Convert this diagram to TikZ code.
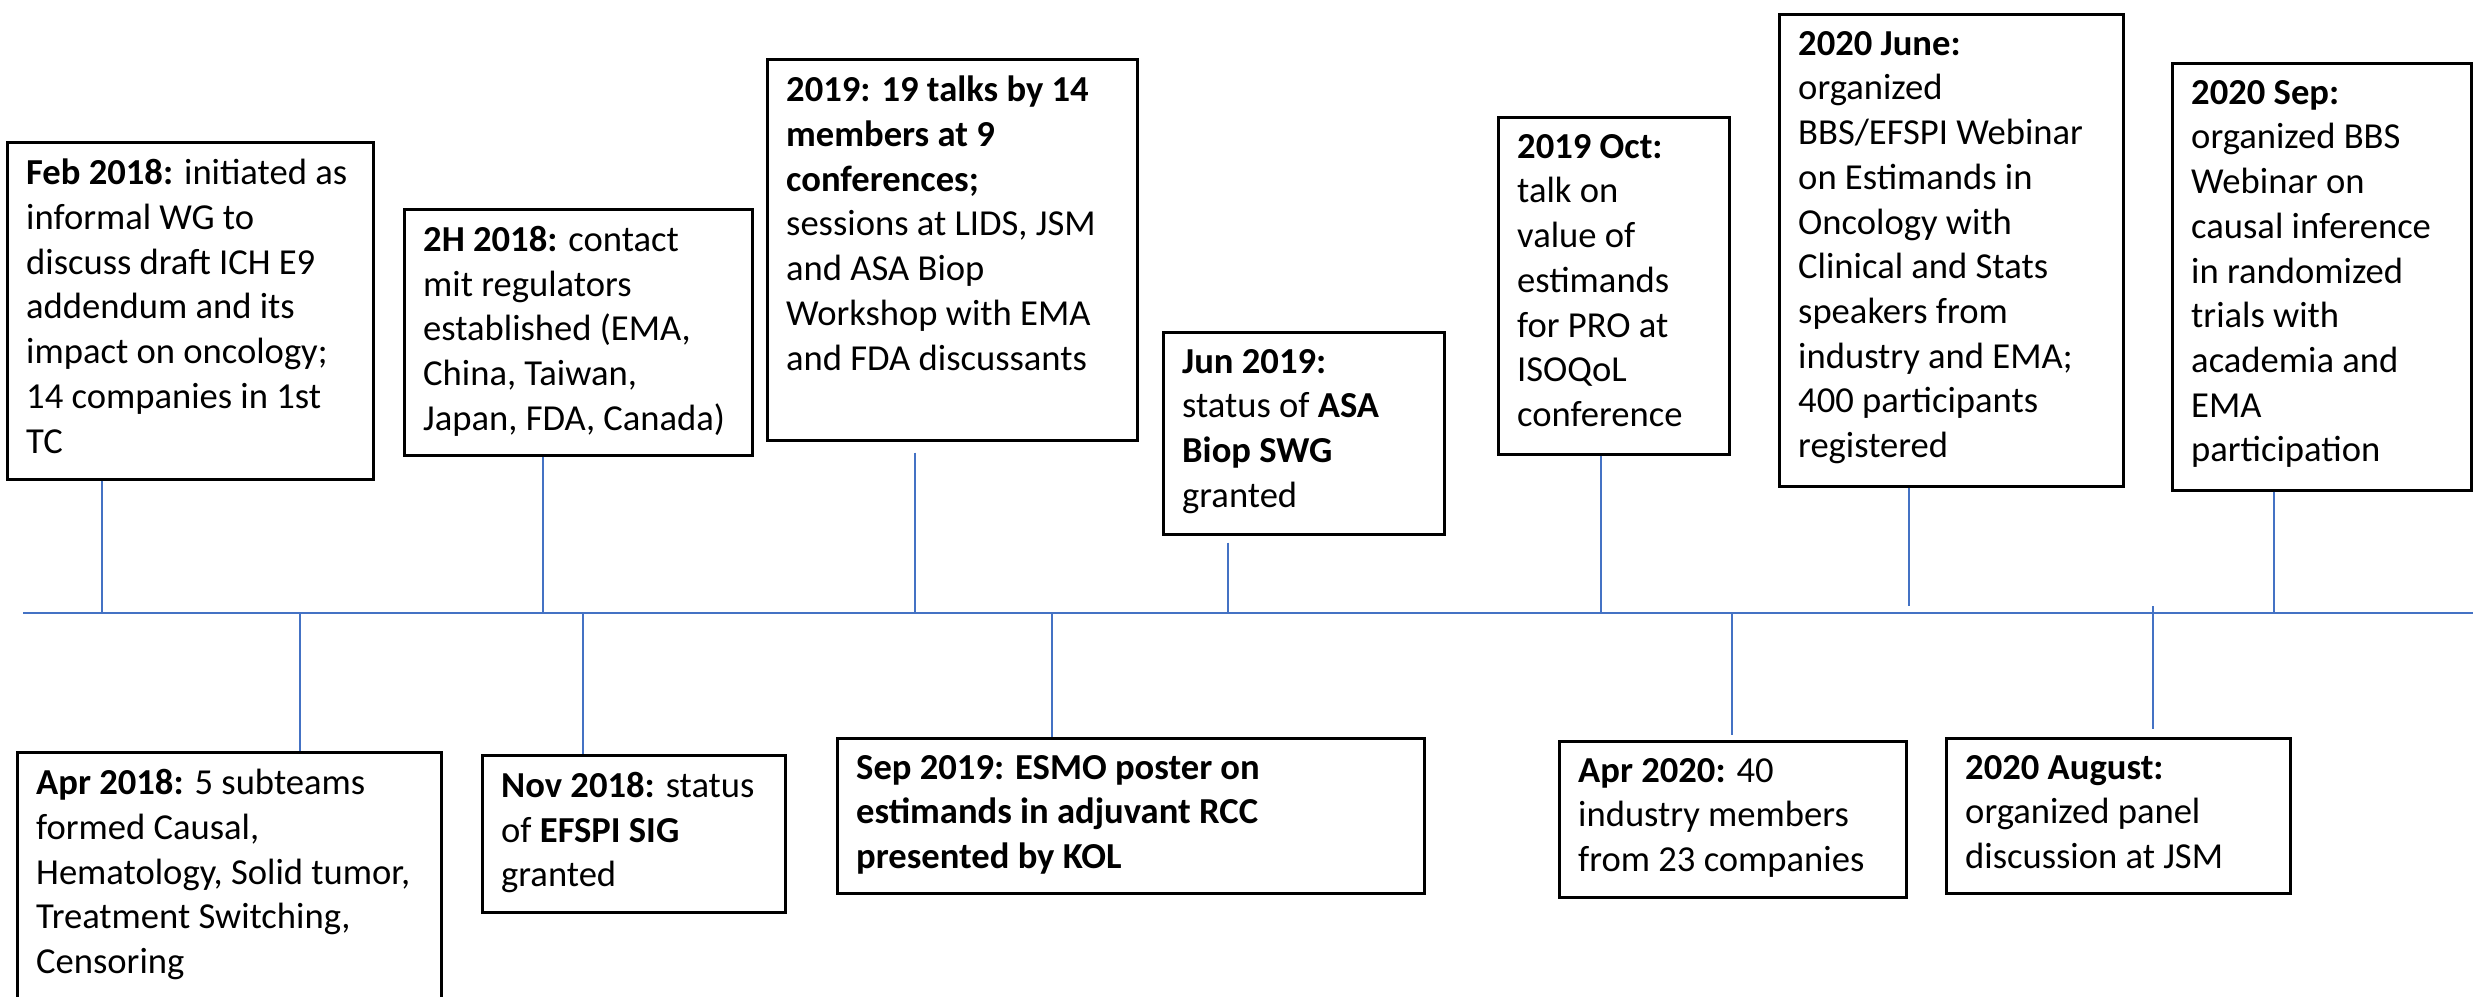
\documentclass[tikz,border=0pt]{standalone}
\usepackage{fontspec}
\setmainfont{Carlito}
\definecolor{tlblue}{HTML}{4472C4}
\begin{document}
\begin{tikzpicture}[x=1pt,y=-1pt,
  box/.style={draw=black, line width=2.5pt, rectangle, inner sep=0pt, anchor=north west},
  txt/.style={anchor=north west, align=left, inner sep=0pt, font=\fontsize{36.6}{44.7}\selectfont,
    execute at begin node={\rule{0pt}{32pt}}},
  conn/.style={draw=tlblue, line width=1.4pt},
  tline/.style={draw=tlblue, line width=2.8pt}]
\useasboundingbox[fill=white] (0,0) rectangle (2473,996);

% timeline
\coordinate (tlstart) at (23,613);
\coordinate (tlend) at (2473,613);
\draw[tline] (tlstart) -- (tlend);

% boxes above
\node[box, minimum width=366pt, minimum height=337pt] (feb) at (6,141) {};
\node[txt] (febt) at ([shift={(20,18)}]feb.north west) {\textbf{Feb 2018:} initiated as\\informal WG to\\discuss draft ICH E9\\addendum and its\\impact on oncology;\\14 companies in 1st\\TC};

\node[box, minimum width=348pt, minimum height=246pt] (hb) at (403,208) {};
\node[txt] (hbt) at ([shift={(20,18)}]hb.north west) {\textbf{2H 2018:} contact\\mit regulators\\established (EMA,\\China, Taiwan,\\Japan, FDA, Canada)};

\node[box, minimum width=370pt, minimum height=381pt] (yn) at (766,58) {};
\node[txt] (ynt) at ([shift={(20,18)}]yn.north west) {\textbf{2019: 19 talks by 14}\\\textbf{members at 9}\\\textbf{conferences;}\\sessions at LIDS, JSM\\and ASA Biop\\Workshop with EMA\\and FDA discussants};

\node[box, minimum width=281pt, minimum height=202pt] (jn) at (1162,331) {};
\node[txt] (jnt) at ([shift={(20,18)}]jn.north west) {\textbf{Jun 2019:}\\status of \textbf{ASA}\\\textbf{Biop SWG}\\granted};

\node[box, minimum width=231pt, minimum height=337pt] (oc) at (1497,116) {};
\node[txt] (oct) at ([shift={(20,18)}]oc.north west) {\textbf{2019 Oct:}\\talk on\\value of\\estimands\\for PRO at\\ISOQoL\\conference};

\node[box, minimum width=344pt, minimum height=472pt] (ju) at (1778,13) {};
\node[txt] (jut) at ([shift={(20,18)}]ju.north west) {\textbf{2020 June:}\\organized\\BBS/EFSPI Webinar\\on Estimands in\\Oncology with\\Clinical and Stats\\speakers from\\industry and EMA;\\400 participants\\registered};

\node[box, minimum width=299pt, minimum height=427pt] (sp) at (2171,62) {};
\node[txt] (spt) at ([shift={(20,18)}]sp.north west) {\textbf{2020 Sep:}\\organized BBS\\Webinar on\\causal inference\\in randomized\\trials with\\academia and\\EMA\\participation};

% boxes below
\node[box, minimum width=424pt, minimum height=260pt] (ap) at (16,751) {};
\node[txt] (apt) at ([shift={(20,18)}]ap.north west) {\textbf{Apr 2018:} 5 subteams\\formed Causal,\\Hematology, Solid tumor,\\Treatment Switching,\\Censoring};

\node[box, minimum width=303pt, minimum height=157pt] (nv) at (481,754) {};
\node[txt] (nvt) at ([shift={(20,18)}]nv.north west) {\textbf{Nov 2018:} status\\of \textbf{EFSPI SIG}\\granted};

\node[box, minimum width=587pt, minimum height=155pt] (se) at (836,737) {};
\node[txt] (set) at ([shift={(20,18)}]se.north west) {\textbf{Sep 2019: ESMO poster on}\\\textbf{estimands in adjuvant RCC}\\\textbf{presented by KOL}};

\node[box, minimum width=347pt, minimum height=156pt] (aw) at (1558,740) {};
\node[txt] (awt) at ([shift={(20,18)}]aw.north west) {\textbf{Apr 2020:} 40\\industry members\\from 23 companies};

\node[box, minimum width=344pt, minimum height=155pt] (au) at (1945,737) {};
\node[txt] (aut) at ([shift={(20,18)}]au.north west) {\textbf{2020 August:}\\organized panel\\discussion at JSM};

% timeline points
\coordinate (cfeb) at (102,613);
\coordinate (chb) at (543,613);
\coordinate (cyn) at (915,613);
\coordinate (cjn) at (1228,613);
\coordinate (coc) at (1601,613);
\coordinate (cju) at (1909,613);
\coordinate (csp) at (2274,613);
\coordinate (cap) at (300,613);
\coordinate (cnv) at (583,613);
\coordinate (cse) at (1052,613);
\coordinate (caw) at (1732,613);
\coordinate (cau) at (2153,613);

% connectors above
\draw[conn] (feb.south -| cfeb) -- (cfeb);
\draw[conn] (hb.south -| chb) -- (chb);
\draw[conn, shorten <=11pt] (yn.south -| cyn) -- (cyn);
\draw[conn, shorten <=7pt] (jn.south -| cjn) -- (cjn);
\draw[conn] (oc.south -| coc) -- (coc);
\draw[conn, shorten >=7pt] (ju.south -| cju) -- (cju);
\draw[conn] (sp.south -| csp) -- (csp);

% connectors below
\draw[conn] (cap) -- (ap.north -| cap);
\draw[conn] (cnv) -- (nv.north -| cnv);
\draw[conn] (cse) -- (se.north -| cse);
\draw[conn, shorten >=5pt] (caw) -- (aw.north -| caw);
\draw[conn, shorten >=8pt] ([yshift=7pt]cau) -- (au.north -| cau);
\end{tikzpicture}
\end{document}
